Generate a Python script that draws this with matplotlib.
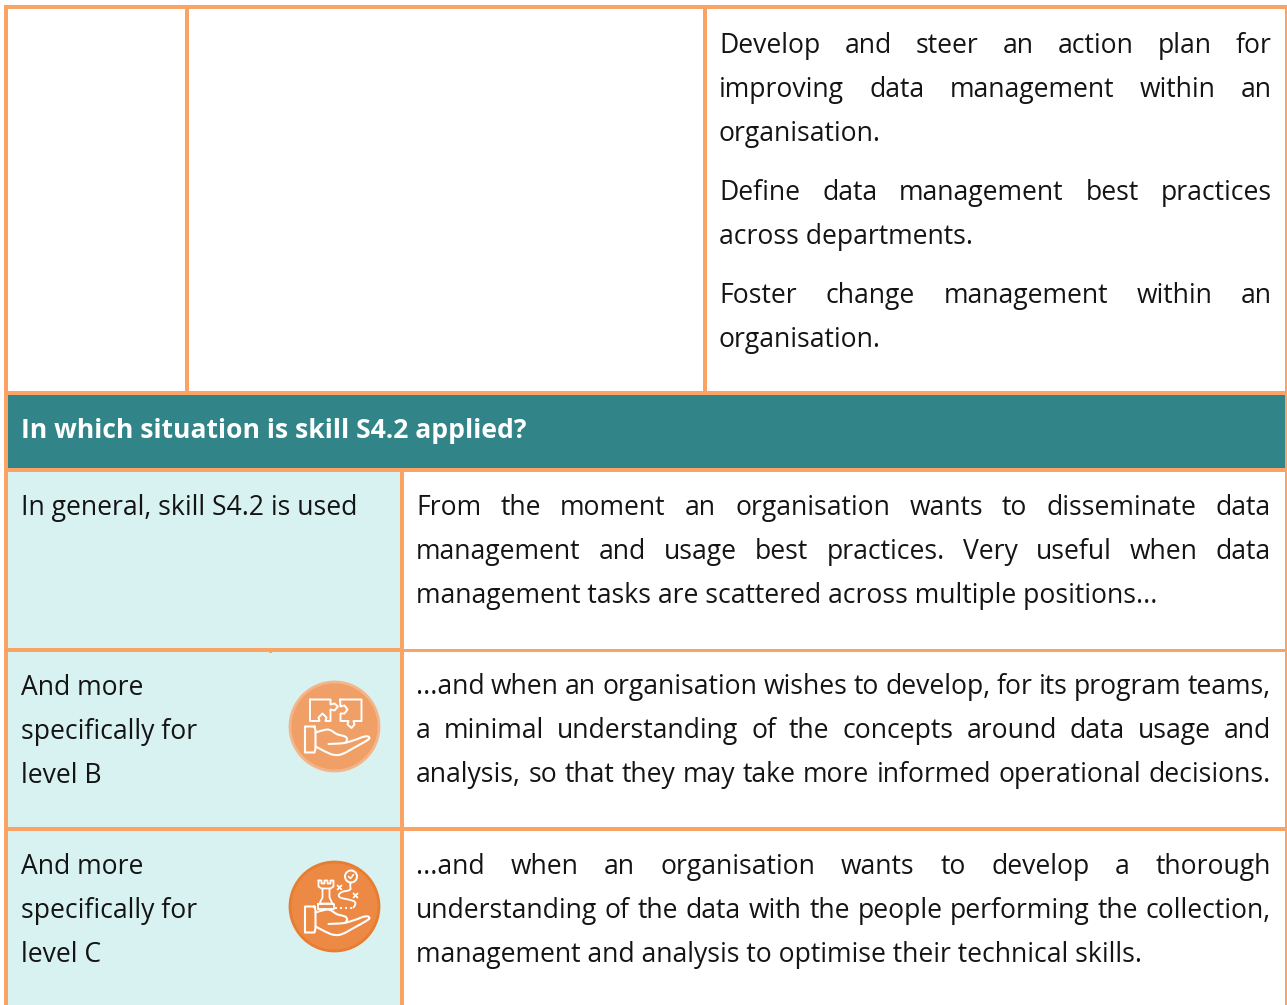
import matplotlib
matplotlib.use('Agg')
import matplotlib.pyplot as plt
from matplotlib.patches import Rectangle, Circle, PathPatch
from matplotlib.path import Path

plt.rcParams['font.family'] = ['Open Sans', 'DejaVu Sans']

ORANGE = '#F9A365'
TEAL = '#318487'
PALE = '#D7F2F0'
INK = '#141414'
FS = 19.1

top_lines = ['Develop and steer an action plan for',
             'improving data management within an',
             'organisation.',
             'Define data management best practices',
             'across departments.',
             'Foster change management within an',
             'organisation.']
top_justified = [True, True, False, True, False, True, False]
top_baselines = [53, 97, 141, 200, 244, 303, 347]

header = 'In which situation is skill S4.2 applied?'

label_general = 'In general, skill S4.2 is used'
labels_b = ['And more', 'specifically for', 'level B']
labels_c = ['And more', 'specifically for', 'level C']

general_lines = ['From the moment an organisation wants to disseminate data',
                 'management and usage best practices. Very useful when data',
                 'management tasks are scattered across multiple positions...']
general_justified = [True, True, False]
b_lines = ['...and when an organisation wishes to develop, for its program teams,',
           'a minimal understanding of the concepts around data usage and',
           'analysis, so that they may take more informed operational decisions.']
b_justified = [True, True, True]
c_lines = ['...and when an organisation wants to develop a thorough',
           'understanding of the data with the people performing the collection,',
           'management and analysis to optimise their technical skills.']
c_justified = [True, True, False]

fig = plt.figure(figsize=(12.87, 10.05), dpi=100)
ax = fig.add_axes([0, 0, 1, 1])
ax.set_xlim(0, 1287)
ax.set_ylim(1005, 0)
ax.axis('off')


def rect(x0, y0, x1, y1, color, z=1):
    ax.add_patch(Rectangle((x0, y0), x1 - x0, y1 - y0, fc=color, ec='none', lw=0, zorder=z))


def put_line(line, x0, x1, y, justify, **kw):
    if not justify:
        ax.text(x0, y, line, color=INK, fontsize=FS, va='baseline', **kw)
        return
    words = line.split(' ')
    renderer = fig.canvas.get_renderer()
    arts = [ax.text(x0, y, w, color=INK, fontsize=FS, va='baseline', **kw) for w in words]
    widths = [a.get_window_extent(renderer).width for a in arts]
    gap = (x1 - x0 - sum(widths)) / (len(words) - 1)
    x = x0
    for a, w in zip(arts, widths):
        a.set_x(x)
        x += w + gap


def shift(pts, cx, cy):
    return [(cx + a, cy + b) for a, b in pts]


def stroke(pts, lw=1.5, ls='-'):
    xs, ys = zip(*pts)
    ax.plot(xs, ys, color='white', lw=lw, ls=ls, solid_capstyle='round',
            solid_joinstyle='round', zorder=6)


def smooth(pts, lw=1.5):
    # quadratic spline through the midpoints of the given control points
    verts = [pts[0]]
    codes = [Path.MOVETO]
    for i in range(1, len(pts) - 1):
        end = pts[i + 1] if i == len(pts) - 2 else ((pts[i][0] + pts[i + 1][0]) / 2, (pts[i][1] + pts[i + 1][1]) / 2)
        verts += [pts[i], end]
        codes += [Path.CURVE3, Path.CURVE3]
    ax.add_patch(PathPatch(Path(verts, codes), fc='none', ec='white', lw=lw,
                           capstyle='round', joinstyle='round', zorder=6))


def hand(cx, cy):
    stroke(shift([(-20, 0), (-29.5, 0), (-29.5, 26), (-20, 26), (-19, 22), (-19, 4), (-20, 0)], cx, cy))
    smooth(shift([(-19, 6), (-10, 3), (-4, 3), (2, 8), (8, 9), (13, 11), (12, 16), (8, 17), (-6, 17.5)], cx, cy))
    smooth(shift([(10, 16.5), (20, 14), (31, 9), (36, 11), (33, 14), (18, 22), (8, 28), (0, 29), (-8, 26), (-19, 20)], cx, cy))


def puzzle(cx, cy):
    left = [(-24.5, -27), (-4, -27), (-4, -22), (0, -23), (3.5, -20), (0, -16), (-4, -17), (-4, -5.5),
            (-9, -5.5), (-8, -9), (-12, -13), (-16, -9), (-15, -5.5), (-24.5, -5.5), (-24.5, -27)]
    right = [(5.5, -27), (27, -27), (27, -5.5), (19, -5.5), (20, -2), (17, 1.5), (13, -2), (14, -5.5), (6, -5.5),
             (6, -13), (10, -13), (13, -17), (10, -21), (6, -20), (5.5, -27)]
    stroke(shift(left, cx, cy), lw=1.4)
    stroke(shift(right, cx, cy), lw=1.4)


def rook(cx, cy):
    stroke(shift([(-16, -26), (-16, -20), (-13, -18), (-4, -18), (-1, -20), (-1, -26),
                  (-4, -26), (-4, -23), (-7, -23), (-7, -26), (-10, -26), (-10, -23),
                  (-13, -23), (-13, -26), (-16, -26)], cx, cy), lw=1.3)
    stroke(shift([(-12, -18), (-12, -9), (-15, -3), (-2, -3), (-5, -9), (-5, -18)], cx, cy), lw=1.3)
    stroke(shift([(-17, -3), (-1, -3), (-1, 2), (-17, 2), (-17, -3)], cx, cy), lw=1.3)
    stroke(shift([(0, 1), (19, 1)], cx, cy), ls=(0, (1, 1.6)), lw=1.4)
    smooth(shift([(19, 1), (23, -4), (15, -7), (3, -9), (6, -15), (17, -16), (15, -22), (16.5, -24)], cx, cy), lw=1.3)
    ax.add_patch(Circle((cx + 16.5, cy - 30), 6, fc='none', ec='white', lw=1.4, zorder=6))
    stroke(shift([(14, -30), (16, -28), (19, -32)], cx, cy), lw=1.1)
    for mx, my in [(5, -19), (21, -11)]:
        stroke(shift([(mx - 2, my - 2), (mx + 2, my + 2)], cx, cy), lw=1.3)
        stroke(shift([(mx - 2, my + 2), (mx + 2, my - 2)], cx, cy), lw=1.3)


# backgrounds
rect(8, 395, 1285, 468, TEAL)
rect(8, 472, 400, 1005, PALE)

# borders
rect(4, 5, 1287, 9, ORANGE, 3)
rect(4, 5, 8, 1005, ORANGE, 3)
rect(1285, 5, 1287, 1005, ORANGE, 3)
rect(185, 5, 189, 395, ORANGE, 3)
rect(703, 5, 707, 395, ORANGE, 3)
rect(4, 391, 1287, 395, ORANGE, 3)
rect(4, 468, 1287, 472, ORANGE, 3)
rect(400, 468, 404, 1005, ORANGE, 3)
rect(4, 648, 400, 652, ORANGE, 3)
rect(404, 649, 1287, 652, ORANGE, 3)
rect(269, 651, 272, 652.5, ORANGE, 3)
rect(4, 827, 1287, 831, ORANGE, 3)

# text
for line, j, y in zip(top_lines, top_justified, top_baselines):
    put_line(line, 719, 1272, y, j)

ax.text(21, 438, header, color='white', fontsize=FS, fontweight='bold', va='baseline', zorder=5)

put_line(label_general, 21, 357, 515, False)
for i, line in enumerate(labels_b):
    put_line(line, 21, 200, 695 + i * 44, False)
for i, line in enumerate(labels_c):
    put_line(line, 21, 200, 874 + i * 44, False)

for lines, just, base in [(general_lines, general_justified, 515),
                          (b_lines, b_justified, 694),
                          (c_lines, c_justified, 874)]:
    for i, (line, j) in enumerate(zip(lines, just)):
        put_line(line, 416, 1271, base + i * 44, j)

# icons
ax.add_patch(Circle((334.5, 726.5), 44.5, fc='#F0A066', ec='#F4B58A', lw=2, zorder=5))
ax.add_patch(Circle((334.5, 906.5), 44.5, fc='#EC8A45', ec='#E87D31', lw=2, zorder=5))
puzzle(334.5, 726.5)
hand(334.5, 726.5)
rook(334.5, 906.5)
hand(334.5, 906.5)

fig.savefig('out.png', dpi=100, facecolor='white')
